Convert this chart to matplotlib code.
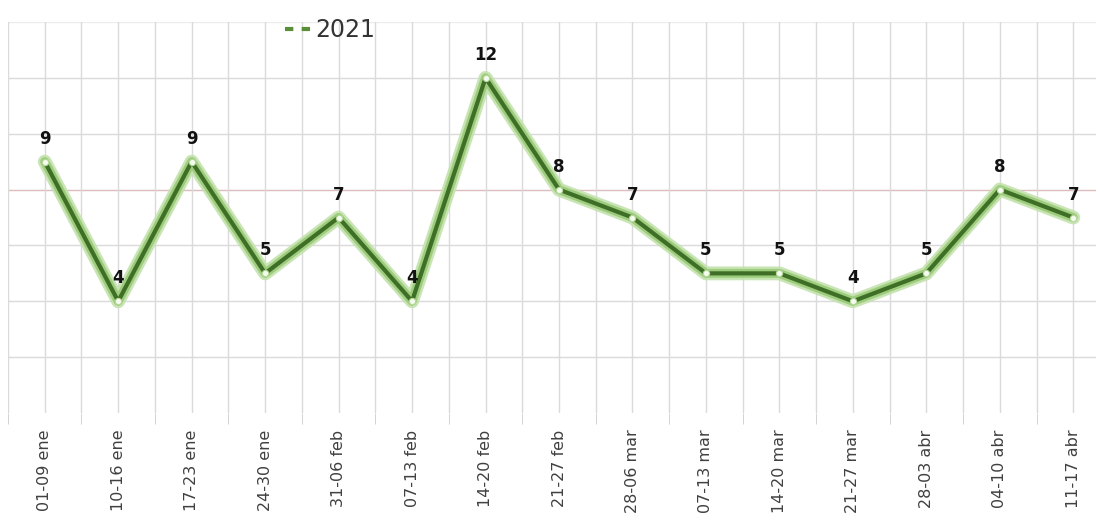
import matplotlib
matplotlib.use("Agg")
import matplotlib.pyplot as plt
import matplotlib.patheffects as pe
import numpy as np

categories = ["01-09 ene", "10-16 ene", "17-23 ene", "24-30 ene", "31-06 feb", "07-13 feb",
              "14-20 feb", "21-27 feb", "28-06 mar", "07-13 mar", "14-20 mar", "21-27 mar",
              "28-03 abr", "04-10 abr", "11-17 abr"]
values_2021 = [9, 4, 9, 5, 7, 4, 12, 8, 7, 5, 5, 4, 5, 8, 7]
series_name = "2021"

W, H = 1096, 517
fig = plt.figure(figsize=(W / 100, H / 100), dpi=100)
ax = fig.add_axes([8 / W, 1 - 413 / H, (1110 - 8) / W, (413 - 22) / H])

x = np.arange(len(categories))
ax.set_xlim(-0.5, len(categories) - 0.5)
ax.set_ylim(0, 14)

# grid
for yv in range(2, 15, 2):
    col = "#dcbcbc" if yv == 8 else ("#ececec" if yv == 14 else "#dadada")
    ax.axhline(yv, color=col, lw=1.0, zorder=0)
for xv in np.arange(-0.5, len(categories), 0.5):
    ax.axvline(xv, color="#dadada", lw=1.0, zorder=0)

ax.plot(x, values_2021, color="#3f6e26", lw=3.0, zorder=3,
        solid_joinstyle="round", solid_capstyle="round",
        path_effects=[pe.Stroke(linewidth=10, foreground="#c4e2ad", alpha=0.9,
                                joinstyle="round", capstyle="round"),
                      pe.Stroke(linewidth=6.5, foreground="#9ccc7c",
                                joinstyle="round", capstyle="round"),
                      pe.Normal()])
ax.plot(x, values_2021, linestyle="none", marker="o", markersize=4.5,
        markerfacecolor="#f6fbf0", markeredgecolor="#b5d89b", markeredgewidth=0.8,
        zorder=4)

for xi, v in zip(x, values_2021):
    ax.text(xi, v + 0.5, str(v), ha="center", va="bottom", fontsize=12,
            fontweight="bold", color="#111111", zorder=5)

for s in ax.spines.values():
    s.set_visible(False)
ax.set_yticks([])
ax.set_xticks(x)
ax.set_xticklabels(categories, rotation=90, fontsize=11.5, color="#404040")
ax.set_xticks(np.arange(-0.5, len(categories), 1.0), minor=True)
ax.tick_params(axis="x", which="major", length=0, pad=12)
ax.tick_params(axis="x", which="minor", length=8, color="#cccccc")

# legend
fig.legend(handles=[plt.Line2D([0], [0], color="#5a8f3a", lw=3, linestyle=(0, (2, 2)))],
           labels=[series_name], loc="center", bbox_to_anchor=(330 / W, 1 - 30 / H),
           frameon=False, fontsize=17, handlelength=1.2, handletextpad=0.1,
           labelcolor="#333333")

fig.savefig("out.png", dpi=100)
